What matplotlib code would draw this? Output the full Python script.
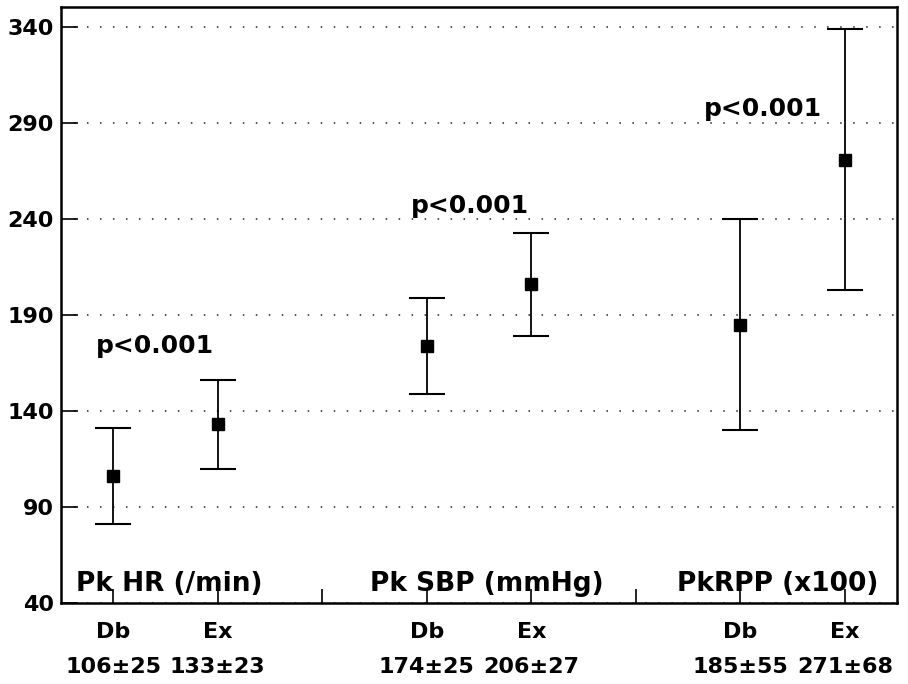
import matplotlib
matplotlib.use("Agg")
import matplotlib.pyplot as plt
import numpy as np

plt.rcParams['font.family'] = ['DejaVu Sans']
plt.rcParams['font.weight'] = 'bold'

# data: mean and SD for diabetics (Db) and controls (Ex)
groups = ["Pk HR (/min)", "Pk SBP (mmHg)", "PkRPP (x100)"]
db_mean = [106, 174, 185]
db_sd = [25, 25, 55]
ex_mean = [133, 206, 271]
ex_sd = [23, 27, 68]
p_labels = ["p<0.001", "p<0.001", "p<0.001"]
p_pos = [(1.40, 170), (4.41, 243), (7.22, 293.5)]
group_x = [1.54, 4.57, 7.36]

db_x = [1, 4, 7]
ex_x = [2, 5, 8]

fig = plt.figure(figsize=(9.08, 6.84), dpi=100)
ax = fig.add_axes([0.0672, 0.1184, 0.9208, 0.8714])

x_all = db_x + ex_x
m_all = db_mean + ex_mean
s_all = db_sd + ex_sd
ax.errorbar(x_all, m_all, yerr=s_all, fmt='s', color='black', ms=8.5,
            ecolor='black', elinewidth=1.3, capsize=13, capthick=1.5, zorder=3)

ax.set_xlim(0.5, 8.5)
ax.set_ylim(40, 350.5)
ax.set_yticks(np.arange(40, 341, 50))
ax.yaxis.grid(True, linestyle=(0, (1, 7.5)), color='#222222', linewidth=1.1)
ax.set_axisbelow(True)

ax.set_xticks(range(1, 9))
ax.set_xticklabels([""] * 8)
ax.tick_params(axis='x', direction='in', length=10, width=1.2)
ax.tick_params(axis='y', direction='in', length=12, width=1.2, labelsize=16, pad=5)
for lab in ax.get_yticklabels():
    lab.set_fontweight('bold')

for sp in ax.spines.values():
    sp.set_linewidth(1.8)

# group names and summary values under the axis
for i in range(3):
    for x, name, m, s in [(db_x[i], "Db", db_mean[i], db_sd[i]),
                          (ex_x[i], "Ex", ex_mean[i], ex_sd[i])]:
        ax.annotate(name, xy=(x, 0), xycoords=('data', 'axes fraction'),
                    xytext=(0, -25.2), textcoords='offset points',
                    ha='center', va='baseline', fontsize=16, fontweight='bold')
        ax.annotate("%d\u00b1%d" % (m, s), xy=(x, 0), xycoords=('data', 'axes fraction'),
                    xytext=(0, -50.4), textcoords='offset points',
                    ha='center', va='baseline', fontsize=16, fontweight='bold')

for (px, py), txt in zip(p_pos, p_labels):
    ax.text(px, py, txt, ha='center', va='baseline', fontsize=18, fontweight='bold')

for gx, g in zip(group_x, groups):
    ax.text(gx, 46.5, g, ha='center', va='baseline', fontsize=19, fontweight='bold')

fig.savefig("out.png", dpi=100)
